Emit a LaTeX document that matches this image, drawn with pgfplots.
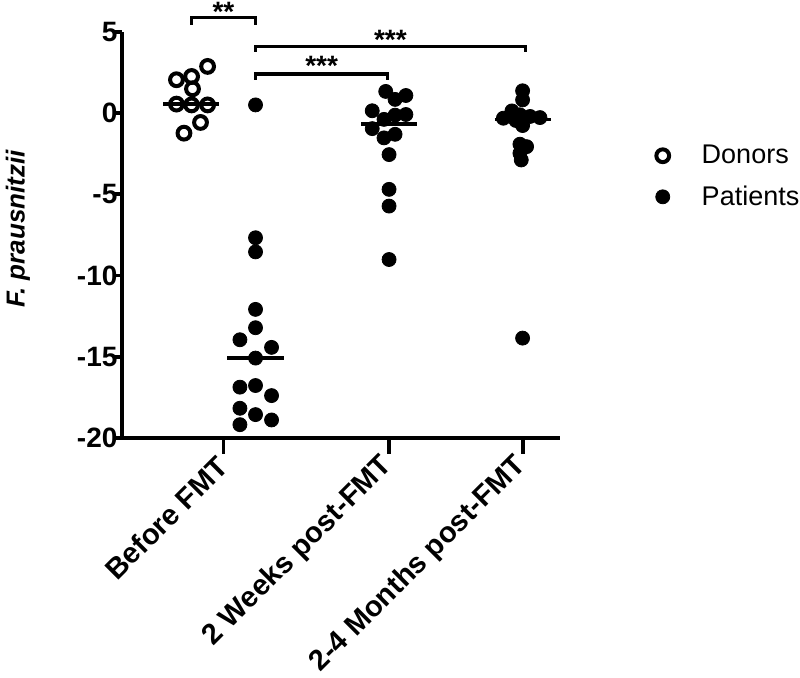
\documentclass[border=0pt]{standalone}
\usepackage{pgfplots}
\pgfplotsset{compat=1.18}
\usepackage{fontspec}
\setmainfont{Liberation Sans}
\begin{document}
\begin{tikzpicture}
\path[use as bounding box] (-61pt,-120pt) rectangle (339pt,219pt);
\begin{axis}[
  at={(0,0)}, anchor=south west,
  scale only axis, width=219pt, height=203pt,
  xmin=0, xmax=3.28, ymin=-20, ymax=5,
  axis lines=left, axis line style={-, line width=1.9pt},
  clip=false,
  tick align=outside,
  xtick={0.76,2,3},
  xticklabels={Before FMT, 2 Weeks post-FMT, 2-4 Months post-FMT},
  ytick={-20,-15,-10,-5,0,5},
  tick style={line width=1.9pt, black},
  xtick style={/pgfplots/major tick length=8pt},
  ytick style={/pgfplots/major tick length=3.5pt},
  /pgf/number format/assume math mode=true,
  yticklabel style={font=\fontsize{14}{16}\selectfont\bfseries, xshift=5.5pt},
  xticklabel style={font=\fontsize{14.5}{16}\selectfont\bfseries, yshift=-5pt, xshift=2pt, rotate=45, anchor=east},
  ylabel={F. prausnitzii},
  ylabel style={font=\fontsize{13}{15}\selectfont\bfseries\itshape, at={(axis description cs:-0.2374,0.515)}, anchor=center},
  legend style={draw=none, fill=none, at={(axis description cs:1.204,0.644)}, anchor=west,
    font=\fontsize{13.5}{15}\selectfont, row sep=5.5pt},
  legend cell align=left,
  legend image code/.code={\draw[#1] plot coordinates {(0pt,0pt)}; \path[draw=none] (0pt,0pt) -- (17.5pt,0pt);},
]
% Donors
\addplot[only marks, mark=o, mark size=3.2pt, line width=2pt, black, mark options={line width=2pt}] coordinates {
(0.641,2.88) (0.408,2.06) (0.521,2.26) (0.528,1.50) (0.408,0.56)
(0.521,0.51) (0.641,0.51) (0.588,-0.57) (0.464,-1.23)
};
\addlegendentry{Donors}
% Patients before FMT
\addplot[only marks, mark=*, mark size=3.5pt, black] coordinates {
(1.0,0.51) (1.0,-7.67) (1.0,-8.54) (1.0,-12.08) (1.0,-13.21)
(0.883,-13.95) (1.12,-14.42) (1.0,-15.08) (0.883,-16.87) (1.0,-16.77)
(1.12,-17.39) (0.883,-18.17) (1.0,-18.56) (1.12,-18.89) (0.883,-19.18)
};
\addlegendentry{Patients}
% Patients 2 weeks
\addplot[only marks, mark=*, mark size=3.5pt, black, forget plot] coordinates {
(1.975,1.34) (2.126,1.09) (2.045,0.85) (1.874,0.15) (2.126,-0.08)
(2.045,-0.12) (1.962,-0.38) (1.874,-0.95) (2.045,-1.30) (1.962,-1.52)
(2.0,-2.55) (2.0,-4.69) (2.0,-5.72) (2.0,-9.01)
};
% Patients 2-4 months
\addplot[only marks, mark=*, mark size=3.5pt, black, forget plot] coordinates {
(3.0,1.38) (3.0,0.82) (2.92,0.14) (2.98,-0.10) (3.056,-0.20)
(3.13,-0.27) (2.856,-0.31) (2.95,-0.45) (3.0,-0.76) (2.98,-1.91)
(3.03,-2.06) (2.98,-2.47) (2.99,-2.88) (3.0,-13.85)
};
% Medians
\addplot[line width=1.8pt, black, forget plot] coordinates {(0.31,0.56) (0.73,0.56)};
\addplot[line width=1.8pt, black, forget plot] coordinates {(0.79,-15.08) (1.21,-15.08)};
\addplot[line width=1.8pt, black, forget plot] coordinates {(1.79,-0.665) (2.21,-0.665)};
\addplot[line width=1.8pt, black, forget plot] coordinates {(2.79,-0.38) (3.21,-0.38)};
% Significance brackets
\draw[line width=1.7pt] (axis cs:0.521,5.45) -- (axis cs:0.521,5.9) -- (axis cs:1.0,5.9) -- (axis cs:1.0,5.45);
\node[anchor=base, font=\fontsize{14}{16}\selectfont\bfseries, inner sep=0pt] at (axis cs:0.76,5.65) {**};
\draw[line width=1.7pt] (axis cs:1.0,3.77) -- (axis cs:1.0,4.12) -- (axis cs:3.02,4.12) -- (axis cs:3.02,3.77);
\node[anchor=base, font=\fontsize{14}{16}\selectfont\bfseries, inner sep=0pt] at (axis cs:2.01,3.95) {***};
\draw[line width=1.7pt] (axis cs:1.0,2.06) -- (axis cs:1.0,2.41) -- (axis cs:1.99,2.41) -- (axis cs:1.99,2.06);
\node[anchor=base, font=\fontsize{14}{16}\selectfont\bfseries, inner sep=0pt] at (axis cs:1.495,2.35) {***};
\end{axis}
\end{tikzpicture}
\end{document}
